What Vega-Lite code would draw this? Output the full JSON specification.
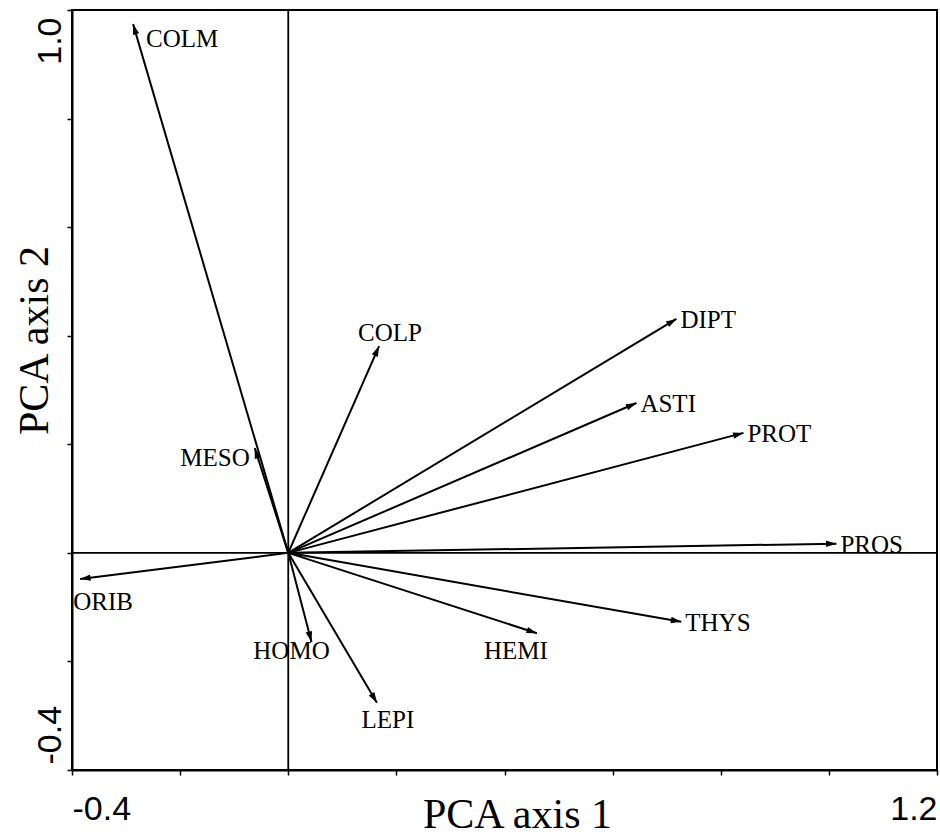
{
  "$schema": "https://vega.github.io/schema/vega-lite/v6.json",
  "width": 865,
  "height": 760,
  "autosize": "none",
  "padding": {"left": 72, "top": 10, "right": 3, "bottom": 65},
  "background": "white",
  "config": {
    "view": {"stroke": "black", "strokeWidth": 2},
    "font": "Liberation Serif",
    "axis": {"grid": false, "domainColor": "black", "domainWidth": 2, "tickColor": "black", "tickWidth": 1.5, "tickSize": 5, "labelColor": "black", "titleColor": "black"},
    "text": {"fontSize": 25, "font": "Liberation Serif", "color": "black", "baseline": "middle"}
  },
  "datasets": {
    "taxa": [
      {"taxon": "COLM", "x": -0.287, "y": 0.974},
      {"taxon": "MESO", "x": -0.062, "y": 0.193},
      {"taxon": "COLP", "x": 0.168, "y": 0.381},
      {"taxon": "DIPT", "x": 0.718, "y": 0.431},
      {"taxon": "ASTI", "x": 0.644, "y": 0.276},
      {"taxon": "PROT", "x": 0.842, "y": 0.221},
      {"taxon": "PROS", "x": 1.014, "y": 0.017},
      {"taxon": "THYS", "x": 0.727, "y": -0.127},
      {"taxon": "HEMI", "x": 0.460, "y": -0.148},
      {"taxon": "LEPI", "x": 0.164, "y": -0.276},
      {"taxon": "HOMO", "x": 0.043, "y": -0.164},
      {"taxon": "ORIB", "x": -0.385, "y": -0.048}
    ],
    "origin": [{"v": 0}]
  },
  "layer": [
    {
      "data": {"name": "origin"},
      "mark": {"type": "rule", "color": "black", "strokeWidth": 1.8},
      "encoding": {"y": {"field": "v", "type": "quantitative", "title": "PCA axis 2"}}
    },
    {
      "data": {"name": "origin"},
      "mark": {"type": "rule", "color": "black", "strokeWidth": 1.8},
      "encoding": {"x": {"field": "v", "type": "quantitative", "title": "PCA axis 1"}}
    },
    {
      "data": {"name": "taxa"},
      "encoding": {
        "x": {
          "field": "x", "type": "quantitative", "title": "PCA axis 1",
          "scale": {"domain": [-0.4, 1.2], "nice": false, "zero": false},
          "axis": {
            "values": [-0.4, -0.2, 0, 0.2, 0.4, 0.6, 0.8, 1.0, 1.2],
            "format": ".1f",
            "labelExpr": "datum.index == 0 || datum.index == 1 ? replace(datum.label, '\u2212', '-') : ''",
            "labelFlush": true,
            "labelFont": "Liberation Sans",
            "labelFontSize": 34,
            "labelPadding": 17,
            "titleFont": "Liberation Serif",
            "titleFontSize": 42,
            "titleFontWeight": "normal",
            "titleX": 445,
            "titleY": 57,
            "titleBaseline": "alphabetic",
            "titleAlign": "center"
          }
        },
        "y": {
          "field": "y", "type": "quantitative", "title": "PCA axis 2",
          "scale": {"domain": [-0.4, 1.0], "nice": false, "zero": false},
          "axis": {
            "values": [-0.4, -0.2, 0, 0.2, 0.4, 0.6, 0.8, 1.0],
            "format": ".1f",
            "labelExpr": "datum.index == 0 || datum.index == 1 ? replace(datum.label, '\u2212', '-') : ''",
            "labelAngle": 270,
            "labelAlign": {"condition": {"test": "datum.index == 0", "value": "left"}, "value": "right"},
            "labelOffset": {"condition": {"test": "datum.index == 0", "value": -6}, "value": 7},
            "labelBaseline": "alphabetic",
            "labelFont": "Liberation Sans",
            "labelFontSize": 34,
            "labelPadding": 7,
            "titleFont": "Liberation Serif",
            "titleFontSize": 42,
            "titleFontWeight": "normal",
            "titleAngle": 270,
            "titleX": -25,
            "titleY": 330,
            "titleBaseline": "alphabetic",
            "titleAlign": "center"
          }
        }
      },
      "layer": [
        {
          "mark": {"type": "rule", "color": "black", "strokeWidth": 2},
          "encoding": {
            "x": {"datum": 0, "type": "quantitative"},
            "y": {"datum": 0, "type": "quantitative"},
            "x2": {"field": "x"},
            "y2": {"field": "y"}
          }
        },
        {
          "transform": [{"calculate": "atan2(datum.x, datum.y) * 180 / PI", "as": "ang"}],
          "mark": {"type": "point", "filled": true, "color": "black", "opacity": 1, "shape": "M0,0L0.5,1.6L-0.5,1.6Z", "size": 170},
          "encoding": {
            "angle": {"field": "ang", "type": "quantitative", "scale": null}
          }
        },
        {
          "transform": [{"filter": {"field": "taxon", "oneOf": ["DIPT", "ASTI", "PROT", "PROS", "THYS"]}}],
          "mark": {"type": "text", "align": "left", "dx": 4, "dy": 1},
          "encoding": {"text": {"field": "taxon"}}
        },
        {
          "transform": [{"filter": {"field": "taxon", "equal": "COLM"}}],
          "mark": {"type": "text", "align": "left", "dx": 13, "dy": 15},
          "encoding": {"text": {"field": "taxon"}}
        },
        {
          "transform": [{"filter": {"field": "taxon", "equal": "MESO"}}],
          "mark": {"type": "text", "align": "right", "dx": -5, "dy": 10},
          "encoding": {"text": {"field": "taxon"}}
        },
        {
          "transform": [{"filter": {"field": "taxon", "equal": "COLP"}}],
          "mark": {"type": "text", "align": "center", "dx": 11, "dy": -13},
          "encoding": {"text": {"field": "taxon"}}
        },
        {
          "transform": [{"filter": {"field": "taxon", "equal": "HEMI"}}],
          "mark": {"type": "text", "align": "center", "dx": -21, "dy": 18},
          "encoding": {"text": {"field": "taxon"}}
        },
        {
          "transform": [{"filter": {"field": "taxon", "equal": "LEPI"}}],
          "mark": {"type": "text", "align": "center", "dx": 11, "dy": 17},
          "encoding": {"text": {"field": "taxon"}}
        },
        {
          "transform": [{"filter": {"field": "taxon", "equal": "HOMO"}}],
          "mark": {"type": "text", "align": "center", "dx": -20, "dy": 9},
          "encoding": {"text": {"field": "taxon"}}
        },
        {
          "transform": [{"filter": {"field": "taxon", "equal": "ORIB"}}],
          "mark": {"type": "text", "align": "center", "dx": 23, "dy": 23},
          "encoding": {"text": {"field": "taxon"}}
        }
      ]
    }
  ]
}
